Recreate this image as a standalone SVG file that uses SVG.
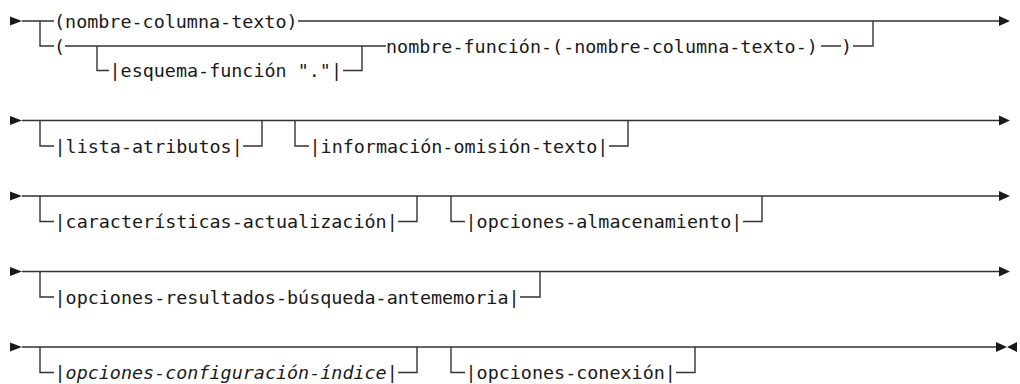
<svg xmlns="http://www.w3.org/2000/svg" width="1020" height="384" viewBox="0 0 1020 384">
  <style>
    .rail { fill: none; stroke: #333; stroke-width: 1.4; }
    .lbl { font-family: "DejaVu Sans Mono", "Liberation Mono", monospace; font-size: 18.4px; fill: #1a1a1a; }
    .var { font-style: italic; }
    .head { fill: #1a1a1a; }
  </style>
  <defs>
    <!-- start-of-line arrow: base at origin, tip to the right -->
    <polygon id="startHead" class="head" points="0,-4.5 12,0 0,4.5"/>
    <!-- continuation arrow: tip at origin -->
    <polygon id="contHead" class="head" points="-11,-5 0,0 -11,5"/>
    <!-- end-of-statement arrow: tip at origin, pointing left -->
    <polygon id="endHead" class="head" points="10,-5 0,0 10,5"/>
  </defs>
  <rect width="1020" height="384" fill="#fff"/>

  <g id="connectors">
    <!-- row 1 -->
    <use href="#startHead" x="10" y="21"/>
    <path class="rail" d="M22,21 H54 M298,21 H1000 M40,21 V46 H54 M65,46 H386 M97,46 V70.5 H109 M343,70.5 H362 V46 M821,46 H841 M853,46 H873 V21"/>
    <use href="#contHead" x="1010" y="21"/>
    <!-- row 2 -->
    <use href="#startHead" x="10" y="120.5"/>
    <path class="rail" d="M22,120.5 H1000 M40,120.5 V146 H54 M243,146 H262 V120.5 M295,120.5 V146 H309 M609,146 H628 V120.5"/>
    <use href="#contHead" x="1010" y="120.5"/>
    <!-- row 3 -->
    <use href="#startHead" x="10" y="196"/>
    <path class="rail" d="M22,196 H1000 M40,196 V221.5 H54 M398,221.5 H417 V196 M451,196 V221.5 H465 M743,221.5 H762 V196"/>
    <use href="#contHead" x="1010" y="196"/>
    <!-- row 4 -->
    <use href="#startHead" x="10" y="271.5"/>
    <path class="rail" d="M22,271.5 H1000 M40,271.5 V297 H54 M520,297 H540 V271.5"/>
    <use href="#contHead" x="1010" y="271.5"/>
    <!-- row 5 -->
    <use href="#startHead" x="10" y="347"/>
    <path class="rail" d="M22,347 H998 M40,347 V372.5 H54 M398,372.5 H417 V347 M451,347 V372.5 H465 M676,372.5 H695 V347"/>
    <use href="#contHead" x="1007" y="347"/>
    <use href="#endHead" x="1007" y="347"/>
  </g>

  <g id="nombre-columna-texto"><text class="lbl" x="54" y="27.5">(nombre-columna-texto)</text></g>
  <g id="paren-open"><text class="lbl" x="54" y="52.5">(</text></g>
  <g id="esquema-funcion"><text class="lbl" x="109.5" y="77">|esquema-función "."|</text></g>
  <g id="nombre-funcion"><text class="lbl" x="386" y="52.5">nombre-función-(-nombre-columna-texto-)</text></g>
  <g id="paren-close"><text class="lbl" x="841" y="52.5">)</text></g>

  <g id="lista-atributos"><text class="lbl" x="54.5" y="152.5">|lista-atributos|</text></g>
  <g id="informacion-omision-texto"><text class="lbl" x="309.5" y="152.5">|información-omisión-texto|</text></g>

  <g id="caracteristicas-actualizacion"><text class="lbl" x="54.5" y="228">|características-actualización|</text></g>
  <g id="opciones-almacenamiento"><text class="lbl" x="465.5" y="228">|opciones-almacenamiento|</text></g>

  <g id="opciones-resultados-busqueda-antememoria"><text class="lbl" x="54.5" y="303.5">|opciones-resultados-búsqueda-antememoria|</text></g>

  <g id="opciones-configuracion-indice"><text class="lbl" x="54.5" y="379">|<tspan class="var">opciones-configuración-índice</tspan>|</text></g>
  <g id="opciones-conexion"><text class="lbl" x="465.5" y="379">|opciones-conexión|</text></g>
</svg>
